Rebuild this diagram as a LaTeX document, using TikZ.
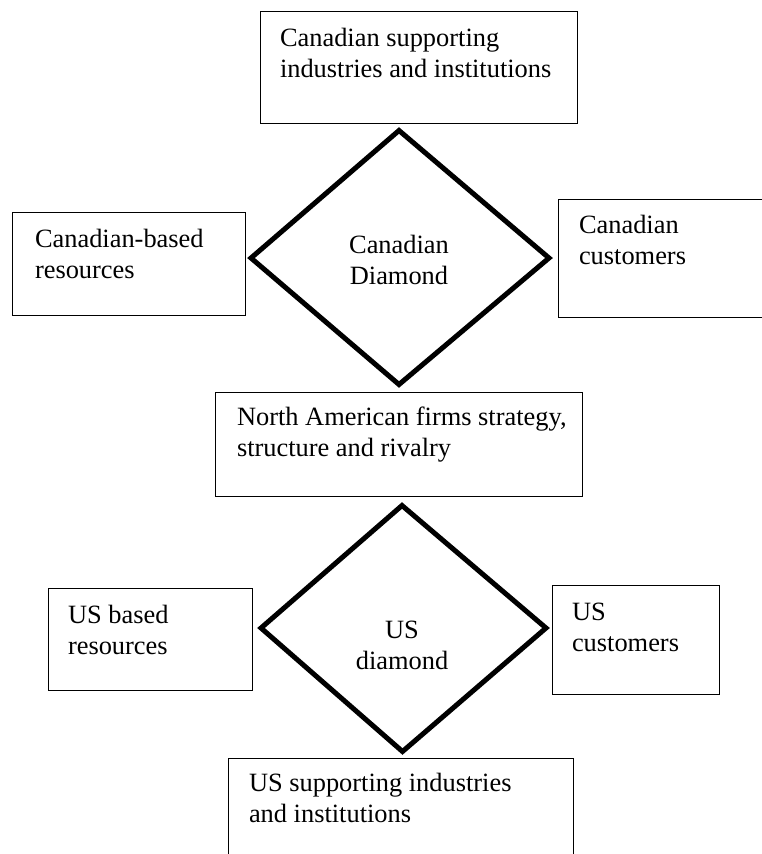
\documentclass[tikz,border=0pt]{standalone}
\usepackage{fontspec}
\setmainfont{Liberation Serif}
\newcommand{\twoL}[2]{\vtop{\hbox{#1}\hbox{#2}}}
\newcommand{\twoC}[2]{\vtop{\hbox to 0pt{\hss #1\hss}\hbox to 0pt{\hss #2\hss}}}
\begin{document}
\begin{tikzpicture}[x=1pt,y=-1pt,
  box/.style={draw=black, line width=1pt, rectangle, inner sep=0pt, fill=none},
  dia/.style={draw=black, line width=5pt, line join=miter},
  txt/.style={inner sep=0pt, outer sep=0pt, anchor=base west, font=\fontsize{26.4}{31}\selectfont},
  ctxt/.style={inner sep=0pt, outer sep=0pt, anchor=base, font=\fontsize{26.4}{31}\selectfont}]
\clip (0,0) rectangle (762,854);
\fill[white] (0,0) rectangle (762,854);
% boxes
\node[box, minimum width=317pt, minimum height=112pt] (topbox) at (418.5,67) {};
\node[box, minimum width=233pt, minimum height=103pt] (cares) at (128.5,263.5) {};
\node[box, minimum width=242pt, minimum height=118pt] (cacust) at (679,258) {};
\node[box, minimum width=367pt, minimum height=104pt] (na) at (398.5,444) {};
\node[box, minimum width=204pt, minimum height=102pt] (usres) at (150,639) {};
\node[box, minimum width=167pt, minimum height=109pt] (uscust) at (635.5,639.5) {};
\node[box, minimum width=345pt, minimum height=142pt] (ussup) at (400.5,829) {};
% Canadian diamond
\coordinate (cdT) at (399,130.5);
\coordinate (cdR) at (549,258);
\coordinate (cdB) at (399,384.5);
\coordinate (cdL) at (251,258);
\draw[dia] (cdT) -- (cdR) -- (cdB) -- (cdL) -- cycle;
% US diamond
\coordinate (udT) at (402,505.5);
\coordinate (udR) at (546,628);
\coordinate (udB) at (402.5,751.5);
\coordinate (udL) at (261,628);
\draw[dia] (udT) -- (udR) -- (udB) -- (udL) -- cycle;
% texts
\node[txt] (t1) at (280,46) {\twoL{Canadian supporting}{industries and institutions}};
\node[txt] (t2) at (35,247) {\twoL{Canadian-based}{resources}};
\node[ctxt] (t3) at (399,253) {\twoC{Canadian}{Diamond}};
\node[txt] (t4) at (579,233) {\twoL{Canadian}{customers}};
\node[txt] (t5) at (237,425) {\twoL{North American firms strategy,}{structure and rivalry}};
\node[ctxt] (t6) at (402,638) {\twoC{US}{diamond}};
\node[txt] (t7) at (68,623) {\twoL{US based}{resources}};
\node[txt] (t8) at (572,620) {\twoL{US}{customers}};
\node[txt] (t9) at (249,791) {\twoL{US supporting industries}{and institutions}};
\end{tikzpicture}
\end{document}
